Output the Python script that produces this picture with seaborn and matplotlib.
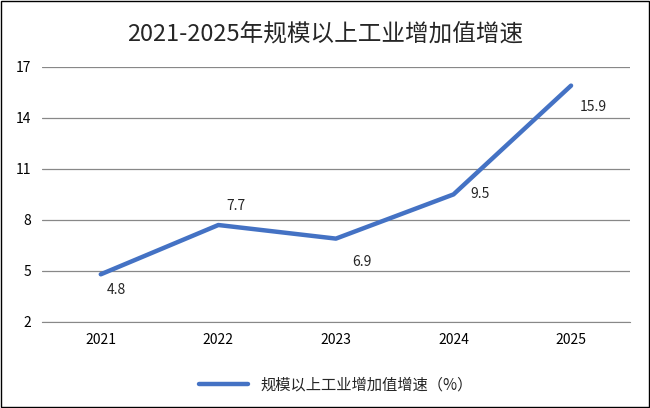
import matplotlib
matplotlib.use("Agg")
import matplotlib.pyplot as plt
import seaborn as sns
import pandas as pd
from matplotlib.patches import Rectangle

years = ["2021", "2022", "2023", "2024", "2025"]
values = [4.8, 7.7, 6.9, 9.5, 15.9]
yticks = [2, 5, 8, 11, 14, 17]
series_name = "规模以上工业增加值增速（%）"
title = "2021-2025年规模以上工业增加值增速"

sns.set_style("white")
plt.rcParams['font.family'] = ['Noto Sans CJK SC', 'DejaVu Sans']

fig = plt.figure(figsize=(6.5, 4.08), dpi=100)
ax = fig.add_axes([0.0646, 0.211, 0.9044, 0.625])
df = pd.DataFrame({"year": years, "v": values})
sns.lineplot(data=df, x="year", y="v", ax=ax, color="#4472C4", linewidth=3.2,
             label=series_name, sort=False)
ax.set_xlim(-0.5, 4.5)
ax.set_ylim(2, 17)
ax.set_yticks(yticks)
ax.yaxis.grid(True, color="#888888", linewidth=0.9)
for s in ax.spines.values():
    s.set_visible(False)
ax.spines['bottom'].set_visible(True)
ax.spines['bottom'].set_color("#888888")
ax.tick_params(axis='both', length=0, labelsize=10, colors="#000000", pad=8)
ax.set_xlabel("")
ax.set_ylabel("")
offsets = [(4, -6), (6, 14), (12, -12), (12, 0), (6, -10)]
for i, (v, o) in enumerate(zip(values, offsets)):
    ax.annotate(f"{v}", (i, v), xytext=o, textcoords="offset points",
                fontsize=10, ha="left", va="top" if o[1] < 0 else "center")
fig.suptitle(title, y=0.945, fontsize=17)
ax.legend(loc="upper center", bbox_to_anchor=(0.5, -0.16), frameon=False,
          fontsize=11, handlelength=3.2)
fig.patches.append(Rectangle((0.001, 0.002), 0.997, 0.996, transform=fig.transFigure,
                             fill=False, edgecolor="black", linewidth=1))
fig.savefig("out.png", dpi=100)
